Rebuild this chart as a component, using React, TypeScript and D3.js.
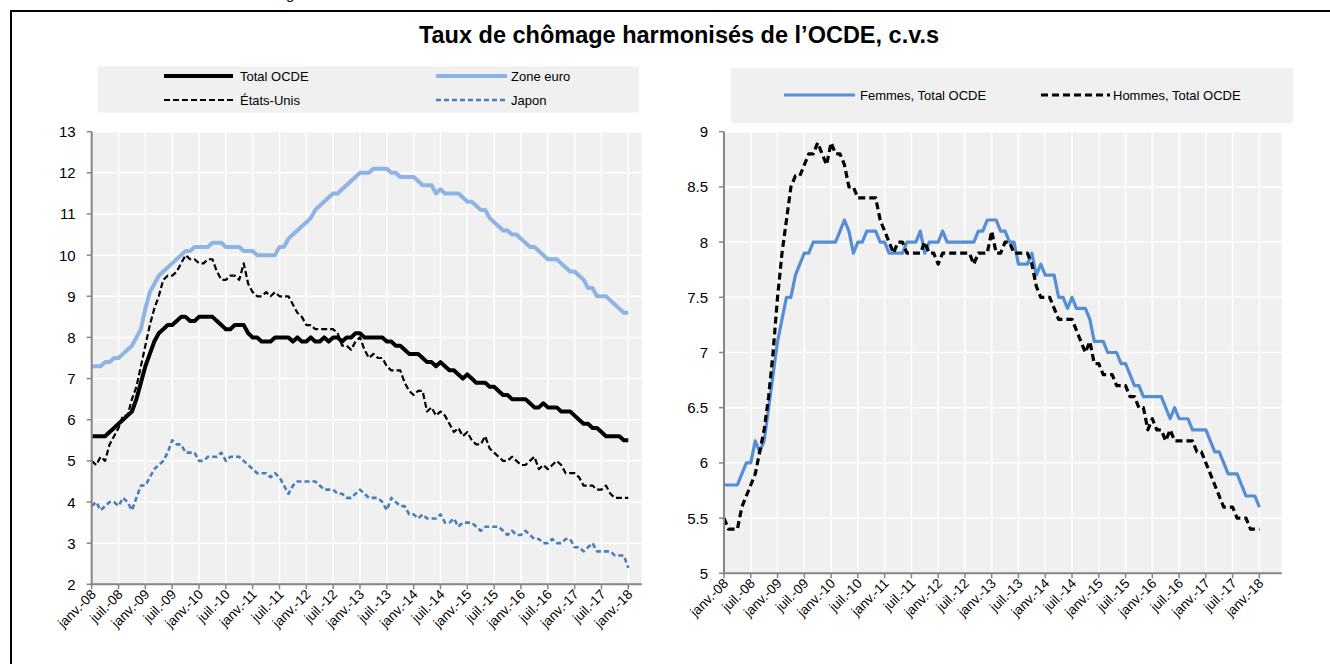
import React from "react";
import * as d3 from "d3";

const FONT = "Arial, 'Liberation Sans', Helvetica, sans-serif";

const title = "Taux de chômage harmonisés de l’OCDE, c.v.s";

const tickLabels = [
  "janv.-08", "juil.-08", "janv.-09", "juil.-09", "janv.-10", "juil.-10", "janv.-11",
  "juil.-11", "janv.-12", "juil.-12", "janv.-13", "juil.-13", "janv.-14", "juil.-14",
  "janv.-15", "juil.-15", "janv.-16", "juil.-16", "janv.-17", "juil.-17", "janv.-18",
];

const leftYTicks = [2, 3, 4, 5, 6, 7, 8, 9, 10, 11, 12, 13];
const rightYTicks = [5, 5.5, 6, 6.5, 7, 7.5, 8, 8.5, 9];

// Monthly values, janv.-08 .. janv.-18 (121 months)
const totalOCDE = [
  5.6, 5.6, 5.6, 5.6, 5.7, 5.8, 5.9, 6.0, 6.1, 6.2,
  6.5, 6.9, 7.3, 7.6, 7.9, 8.1, 8.2, 8.3, 8.3, 8.4,
  8.5, 8.5, 8.4, 8.4, 8.5, 8.5, 8.5, 8.5, 8.4, 8.3,
  8.2, 8.2, 8.3, 8.3, 8.3, 8.1, 8.0, 8.0, 7.9, 7.9,
  7.9, 8.0, 8.0, 8.0, 8.0, 7.9, 8.0, 7.9, 7.9, 8.0,
  7.9, 7.9, 8.0, 7.9, 8.0, 8.0, 7.9, 8.0, 8.0, 8.1,
  8.1, 8.0, 8.0, 8.0, 8.0, 8.0, 7.9, 7.9, 7.8, 7.8,
  7.7, 7.6, 7.6, 7.6, 7.5, 7.4, 7.4, 7.3, 7.4, 7.3,
  7.2, 7.2, 7.1, 7.0, 7.1, 7.0, 6.9, 6.9, 6.9, 6.8,
  6.8, 6.7, 6.6, 6.6, 6.5, 6.5, 6.5, 6.5, 6.4, 6.3,
  6.3, 6.4, 6.3, 6.3, 6.3, 6.2, 6.2, 6.2, 6.1, 6.0,
  5.9, 5.9, 5.8, 5.8, 5.7, 5.6, 5.6, 5.6, 5.6, 5.5,
  5.5,
];

const zoneEuro = [
  7.3, 7.3, 7.3, 7.4, 7.4, 7.5, 7.5, 7.6, 7.7, 7.8,
  8.0, 8.2, 8.7, 9.1, 9.3, 9.5, 9.6, 9.7, 9.8, 9.9,
  10.0, 10.1, 10.1, 10.2, 10.2, 10.2, 10.2, 10.3, 10.3, 10.3,
  10.2, 10.2, 10.2, 10.2, 10.1, 10.1, 10.1, 10.0, 10.0, 10.0,
  10.0, 10.0, 10.2, 10.2, 10.4, 10.5, 10.6, 10.7, 10.8, 10.9,
  11.1, 11.2, 11.3, 11.4, 11.5, 11.5, 11.6, 11.7, 11.8, 11.9,
  12.0, 12.0, 12.0, 12.1, 12.1, 12.1, 12.1, 12.0, 12.0, 11.9,
  11.9, 11.9, 11.9, 11.8, 11.7, 11.7, 11.7, 11.5, 11.6, 11.5,
  11.5, 11.5, 11.5, 11.4, 11.3, 11.3, 11.2, 11.1, 11.1, 10.9,
  10.8, 10.7, 10.6, 10.6, 10.5, 10.5, 10.4, 10.3, 10.2, 10.2,
  10.1, 10.0, 9.9, 9.9, 9.9, 9.8, 9.7, 9.6, 9.6, 9.5,
  9.4, 9.2, 9.2, 9.0, 9.0, 9.0, 8.9, 8.8, 8.7, 8.6,
  8.6,
];

const etatsUnis = [
  5.0, 4.9, 5.1, 5.0, 5.4, 5.6, 5.8, 6.1, 6.1, 6.5, 6.8, 7.3,
  7.8, 8.3, 8.7, 9.0, 9.4, 9.5, 9.5, 9.6, 9.8, 10.0, 9.9, 9.9,
  9.8, 9.8, 9.9, 9.9, 9.6, 9.4, 9.4, 9.5, 9.5, 9.4, 9.8, 9.3,
  9.1, 9.0, 9.0, 9.1, 9.0, 9.1, 9.0, 9.0, 9.0, 8.8, 8.6, 8.5,
  8.3, 8.3, 8.2, 8.2, 8.2, 8.2, 8.2, 8.1, 7.8, 7.8, 7.7, 7.9,
  8.0, 7.7, 7.5, 7.6, 7.5, 7.5, 7.3, 7.2, 7.2, 7.2, 6.9, 6.7,
  6.6, 6.7, 6.7, 6.2, 6.3, 6.1, 6.2, 6.1, 5.9, 5.7, 5.8, 5.6,
  5.7, 5.5, 5.4, 5.4, 5.6, 5.3, 5.2, 5.1, 5.0, 5.0, 5.1, 5.0,
  4.9, 4.9, 5.0, 5.1, 4.8, 4.9, 4.8, 4.9, 5.0, 4.9, 4.7, 4.7,
  4.7, 4.6, 4.4, 4.4, 4.4, 4.3, 4.3, 4.4, 4.2, 4.1, 4.1, 4.1,
  4.1,
];

const japon = [
  3.9, 4.0, 3.8, 3.9, 4.0, 4.0, 3.9, 4.1, 4.0, 3.8,
  4.1, 4.4, 4.4, 4.6, 4.8, 4.9, 5.0, 5.2, 5.5, 5.4,
  5.4, 5.2, 5.2, 5.2, 5.0, 5.0, 5.1, 5.1, 5.1, 5.2,
  5.0, 5.1, 5.1, 5.1, 5.0, 4.9, 4.8, 4.7, 4.7, 4.7,
  4.6, 4.7, 4.6, 4.4, 4.2, 4.4, 4.5, 4.5, 4.5, 4.5,
  4.5, 4.4, 4.3, 4.3, 4.3, 4.2, 4.2, 4.1, 4.1, 4.2,
  4.3, 4.2, 4.1, 4.1, 4.1, 4.0, 3.8, 4.1, 4.0, 3.9,
  3.9, 3.7, 3.7, 3.6, 3.7, 3.6, 3.6, 3.6, 3.7, 3.5,
  3.5, 3.6, 3.4, 3.5, 3.5, 3.5, 3.4, 3.3, 3.4, 3.4,
  3.4, 3.4, 3.3, 3.2, 3.3, 3.2, 3.2, 3.3, 3.2, 3.1,
  3.1, 3.0, 3.0, 3.1, 3.0, 3.0, 3.1, 3.1, 2.9, 2.9,
  2.8, 2.9, 3.0, 2.8, 2.8, 2.8, 2.8, 2.7, 2.7, 2.7,
  2.4,
];

const femmes = [
  5.8, 5.8, 5.8, 5.8, 5.9, 6.0, 6.0, 6.2, 6.1, 6.2,
  6.5, 6.8, 7.1, 7.3, 7.5, 7.5, 7.7, 7.8, 7.9, 7.9,
  8.0, 8.0, 8.0, 8.0, 8.0, 8.0, 8.1, 8.2, 8.1, 7.9,
  8.0, 8.0, 8.1, 8.1, 8.1, 8.0, 8.0, 7.9, 7.9, 7.9,
  7.9, 8.0, 8.0, 8.0, 8.1, 7.9, 8.0, 8.0, 8.0, 8.1,
  8.0, 8.0, 8.0, 8.0, 8.0, 8.0, 8.0, 8.1, 8.1, 8.2,
  8.2, 8.2, 8.1, 8.1, 8.0, 8.0, 7.8, 7.8, 7.8, 7.9,
  7.7, 7.8, 7.7, 7.7, 7.7, 7.5, 7.5, 7.4, 7.5, 7.4,
  7.4, 7.4, 7.3, 7.1, 7.1, 7.1, 7.0, 7.0, 7.0, 6.9,
  6.9, 6.8, 6.7, 6.7, 6.6, 6.6, 6.6, 6.6, 6.6, 6.5,
  6.4, 6.5, 6.4, 6.4, 6.4, 6.3, 6.3, 6.3, 6.3, 6.2,
  6.1, 6.1, 6.0, 5.9, 5.9, 5.9, 5.8, 5.7, 5.7, 5.7,
  5.6,
];

const hommes = [
  5.5, 5.4, 5.4, 5.4, 5.6, 5.7, 5.8, 5.9, 6.1, 6.3,
  6.6, 7.0, 7.5, 7.9, 8.2, 8.5, 8.6, 8.6, 8.7, 8.8,
  8.8, 8.9, 8.8, 8.7, 8.9, 8.8, 8.8, 8.7, 8.5, 8.5,
  8.4, 8.4, 8.4, 8.4, 8.4, 8.2, 8.1, 8.0, 7.9, 8.0,
  8.0, 7.9, 7.9, 7.9, 7.9, 8.0, 7.9, 7.9, 7.8, 7.9,
  7.9, 7.9, 7.9, 7.9, 7.9, 7.9, 7.8, 7.9, 7.9, 7.9,
  8.1, 7.9, 7.9, 8.0, 8.0, 7.9, 7.9, 7.9, 7.9, 7.8,
  7.6, 7.5, 7.5, 7.5, 7.4, 7.3, 7.3, 7.3, 7.3, 7.2,
  7.1, 7.0, 7.1, 6.9, 6.9, 6.8, 6.8, 6.8, 6.7, 6.7,
  6.7, 6.6, 6.6, 6.5, 6.5, 6.3, 6.4, 6.3, 6.3, 6.2,
  6.3, 6.2, 6.2, 6.2, 6.2, 6.2, 6.1, 6.1, 6.0, 5.9,
  5.8, 5.7, 5.6, 5.6, 5.6, 5.5, 5.5, 5.5, 5.4, 5.4,
  5.4,
];

type Series = {
  name: string;
  values: number[];
  color: string;
  width: number;
  dash?: string;
};

const leftSeries: Series[] = [
  { name: "Japon", values: japon, color: "#4A7EBB", width: 2.6, dash: "5,3" },
  { name: "États-Unis", values: etatsUnis, color: "#000000", width: 2.2, dash: "6,3" },
  { name: "Zone euro", values: zoneEuro, color: "#8DB4E2", width: 4 },
  { name: "Total OCDE", values: totalOCDE, color: "#000000", width: 4 },
];

const rightSeries: Series[] = [
  { name: "Femmes, Total OCDE", values: femmes, color: "#558ED5", width: 3.2 },
  { name: "Hommes, Total OCDE", values: hommes, color: "#000000", width: 3.2, dash: "7,4" },
];

type PanelProps = {
  x0: number;
  x1: number;
  y0: number;
  y1: number;
  monthsSpan: number;
  yDomain: [number, number];
  yTicks: number[];
  series: Series[];
};

function Panel({ x0, x1, y0, y1, monthsSpan, yDomain, yTicks, series }: PanelProps) {
  const x = d3.scaleLinear().domain([0, monthsSpan]).range([x0, x1]);
  const y = d3.scaleLinear().domain(yDomain).range([y1, y0]);
  const line = d3
    .line<number>()
    .x((_, i) => x(i))
    .y((v) => y(v));
  const tickMonths = tickLabels.map((_, i) => i * 6);
  const axisColor = "#868686";
  return (
    <g>
      <rect x={x0} y={y0} width={x1 - x0} height={y1 - y0} fill="#F0F0F0" />
      {yTicks.slice(1).map((t) => (
        <line key={"hg" + t} x1={x0} x2={x1} y1={y(t)} y2={y(t)} stroke="#FFFFFF" strokeWidth={1.5} />
      ))}
      {tickMonths.slice(1).map((m) => (
        <line key={"vg" + m} x1={x(m)} x2={x(m)} y1={y0} y2={y1} stroke="#FFFFFF" strokeWidth={1.5} />
      ))}
      {series.map((s) => (
        <path
          key={s.name}
          d={line(s.values) || ""}
          fill="none"
          stroke={s.color}
          strokeWidth={s.width}
          strokeDasharray={s.dash}
          strokeLinejoin="round"
        />
      ))}
      <line x1={x0} x2={x0} y1={y0} y2={y1 + 1} stroke={axisColor} strokeWidth={2} />
      <line x1={x0 - 1} x2={x1} y1={y1} y2={y1} stroke={axisColor} strokeWidth={2} />
      {yTicks.map((t) => (
        <g key={"yt" + t}>
          <line x1={x0 - 5} x2={x0} y1={y(t)} y2={y(t)} stroke={axisColor} strokeWidth={1.5} />
          <text x={x0 - 16} y={y(t) + 5.5} textAnchor="end" fontSize={15} fontFamily={FONT} fill="#000">
            {String(t)}
          </text>
        </g>
      ))}
      {tickMonths.map((m, i) => (
        <g key={"xt" + m}>
          <line x1={x(m)} x2={x(m)} y1={y1} y2={y1 + 5} stroke={axisColor} strokeWidth={1.5} />
          <text
            transform={`translate(${x(m) + 5},${y1 + 11}) rotate(-45)`}
            textAnchor="end"
            fontSize={13.5}
            fontFamily={FONT}
            fill="#000"
          >
            {tickLabels[i]}
          </text>
        </g>
      ))}
    </g>
  );
}

function LegendItem({ s, x, y, textX }: { s: Series; x: [number, number]; y: number; textX: number }) {
  return (
    <g>
      <line x1={x[0]} x2={x[1]} y1={y} y2={y} stroke={s.color} strokeWidth={s.width} strokeDasharray={s.dash} />
      <text x={textX} y={y + 4.5} fontSize={13} fontFamily={FONT} fill="#000">
        {s.name}
      </text>
    </g>
  );
}

export default function App() {
  const [jp, us, ez, tot] = leftSeries;
  const [fem, hom] = rightSeries;
  return (
    <svg
      width={1330}
      height={664}
      viewBox="0 0 1330 664"
      style={{ position: "absolute", left: 0, top: 0, background: "#fff" }}
    >
      <rect x={0} y={0} width={1330} height={664} fill="#FFFFFF" />
      <text x={286} y={-1} fontSize={15} fontFamily={FONT} fill="#000">g</text>
      <rect x={11} y={11} width={1340} height={680} fill="none" stroke="#000" strokeWidth={2} />
      <text x={679} y={43} textAnchor="middle" fontSize={23.5} fontWeight="bold" fontFamily={FONT} fill="#000">
        {title}
      </text>

      <rect x={98} y={66.5} width={541} height={46} fill="#F0F0F0" />
      <LegendItem s={tot} x={[164, 233]} y={76} textX={240} />
      <LegendItem s={ez} x={[436, 507]} y={76} textX={511} />
      <LegendItem s={us} x={[164, 233]} y={100} textX={240} />
      <LegendItem s={jp} x={[436, 507]} y={100} textX={511} />

      <rect x={731} y={68} width={562} height={55} fill="#F0F0F0" />
      <LegendItem s={fem} x={[784, 855]} y={95} textX={860} />
      <LegendItem s={hom} x={[1041, 1110]} y={95} textX={1113} />

      <Panel
        x0={91.7}
        x1={641.7}
        y0={131.7}
        y1={584.3}
        monthsSpan={123}
        yDomain={[2, 13]}
        yTicks={leftYTicks}
        series={leftSeries}
      />
      <Panel
        x0={724}
        x1={1281.7}
        y0={131.7}
        y1={573.3}
        monthsSpan={125}
        yDomain={[5, 9]}
        yTicks={rightYTicks}
        series={rightSeries}
      />
    </svg>
  );
}
